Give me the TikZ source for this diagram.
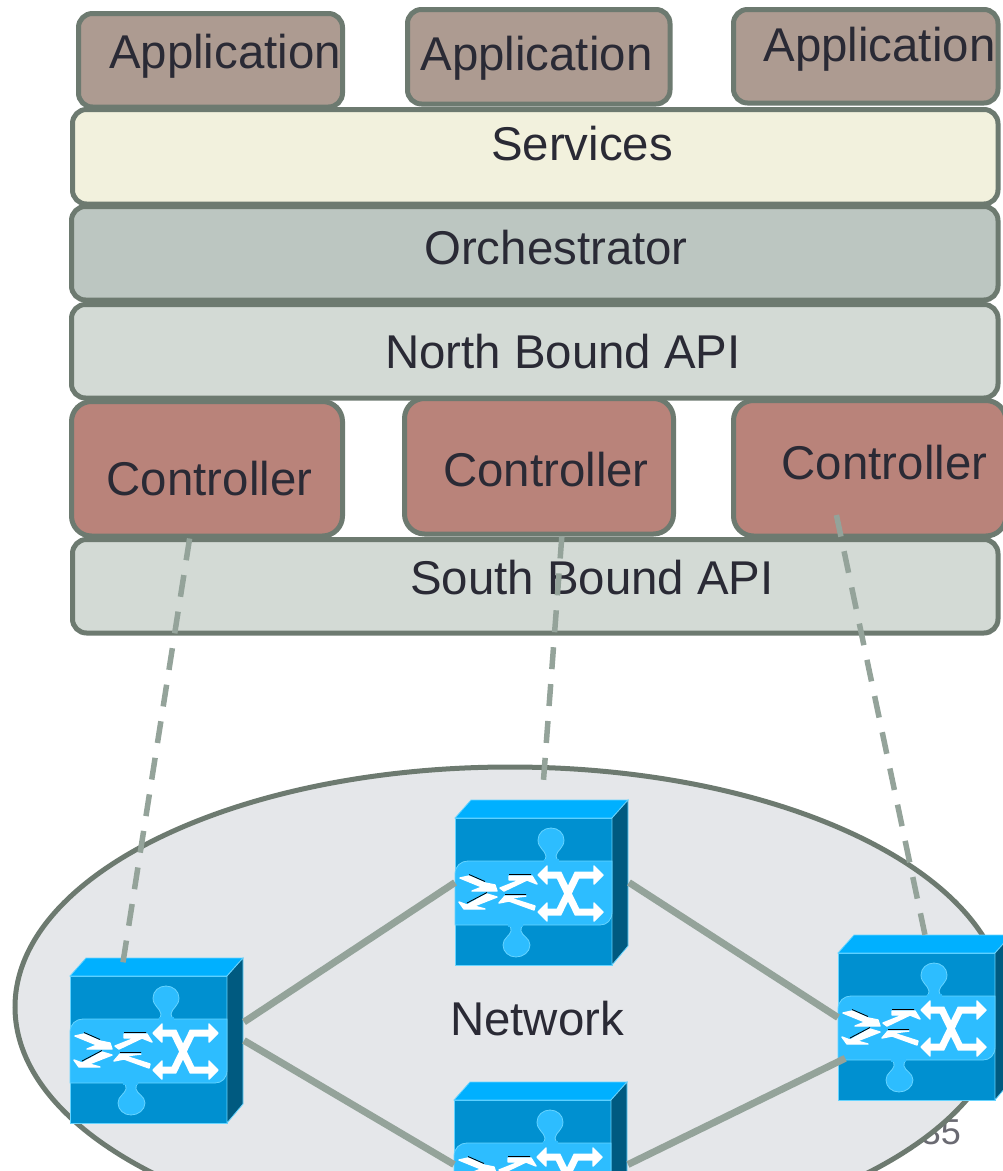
\documentclass[tikz,border=0pt]{standalone}
\usepackage{fontspec}
\setmainfont{Liberation Sans}
\usepackage{xcolor}
\usetikzlibrary{calc, positioning, shapes.geometric}

\definecolor{edgegray}{HTML}{6D7A70}
\definecolor{linkgray}{HTML}{94A39A}
\definecolor{inkdark}{HTML}{2A2A35}
\definecolor{appfill}{HTML}{AD9B91}
\definecolor{servfill}{HTML}{F2F1DD}
\definecolor{orchfill}{HTML}{BCC6C1}
\definecolor{apifill}{HTML}{D3DAD5}
\definecolor{ctrlfill}{HTML}{B9837A}
\definecolor{netfill}{HTML}{E5E7EA}
\definecolor{swfront}{HTML}{0090D0}
\definecolor{swtop}{HTML}{00B0FF}
\definecolor{swside}{HTML}{005A80}
\definecolor{swband}{HTML}{2DBDFF}
\definecolor{swedge}{HTML}{66D4FF}

\tikzset{
    layerbox/.style={draw=edgegray, line width=5pt, rounded corners=14pt, inner sep=0pt},
    ctrlbox/.style={layerbox, rounded corners=20pt},
    boxtext/.style={anchor=base, inner sep=0pt, text=inkdark, font=\fontsize{47.4}{56}\selectfont},
    switchbox/.style={anchor=north west, minimum width=174pt, minimum height=165pt, inner sep=0pt, outer sep=0pt},
    netlink/.style={draw=linkgray, line width=7pt},
    ctrllink/.style={draw=linkgray, line width=5.5pt, dash pattern=on 22pt off 15pt},
    swarrow/.style={fill=white, draw=white, line width=1.4pt, line join=round},
    switchicon/.pic={
        \path[fill=swfront, draw=swedge, line width=0.8pt] (0,0) rectangle (157,147);
        \path[fill=swtop, draw=swedge, line width=0.8pt] (0,0) -- (16,-18) -- (173,-18) -- (157,0) -- cycle;
        \path[fill=swside, draw=swedge, line width=0.8pt] (157,0) -- (173,-18) -- (173,128) -- (157,147) -- cycle;
        \path[fill=swband, draw=swedge, line width=0.8pt] (88,44) .. controls (90,43) and (91,41) .. (91,38)
            .. controls (90,32) and (83,30) .. (83,22)
            .. controls (83,15) and (89,10) .. (96,10) .. controls (103,10) and (109,15) .. (109,22)
            .. controls (109,30) and (102,32) .. (101,38)
            .. controls (101,41) and (103,43) .. (105,44) -- cycle;
        \path[fill=swband, draw=swedge, line width=0.8pt] (52,106) .. controls (55,107) and (56,109) .. (56,113)
            .. controls (55,118) and (48,120) .. (48,127)
            .. controls (48,134) and (54,139) .. (61,139) .. controls (68,139) and (75,134) .. (75,127)
            .. controls (75,120) and (67,118) .. (66,113)
            .. controls (66,109) and (67,107) .. (69,106) -- cycle;
        \path[fill=swband, draw=swedge, line width=0.8pt] (0,56) .. controls (0,48) and (6,43) .. (13,43)
            -- (157,43) -- (157,94) .. controls (157,102) and (152,107) .. (145,107) -- (0,107) -- cycle;
        \path[fill=swband] (89,41) rectangle (104,46);
        \path[fill=swband] (53,104) rectangle (68,109);
        % crossing arrows on the right
        \draw[white, line width=7pt] (90,57) -- (104,57) -- (122,94) -- (142,94);
        \draw[white, line width=7pt] (90,94) -- (104,94) -- (122,57) -- (142,57);
        \foreach \ypos in {57, 94} {
            \path[swarrow] (83,\ypos) -- (92,{\ypos-9}) -- (92,{\ypos+9}) -- cycle;
            \path[swarrow] (148,\ypos) -- (139,{\ypos-9}) -- (139,{\ypos+9}) -- cycle;
        }
        % four small arrows on the left
        \path[swarrow] (5,60) -- (14,58) -- (30,65) -- (40,67) -- (42,73) -- (17,73) -- (27,69) -- cycle;
        \path[swarrow] (54,58) -- (77,58) -- (82,66) -- (72,62) -- (49,73) -- (45,70) -- (65,62) -- (54,62) -- cycle;
        \path[swarrow] (32,76) -- (42,79) -- (19,88) -- (30,91) -- (9,91) -- (4,84) -- (12,87) -- cycle;
        \path[swarrow] (44,85) -- (50,78) -- (71,78) -- (55,80) -- (80,88) -- (79,92) -- (54,83) -- cycle;
        \draw[black, line width=0.8pt] (54,56.5) -- (76,56.5) (32,74.5) -- (12,85) (50,76.5) -- (71,76.5) (14,56.5) -- (30,63.5);
    }
}

\begin{document}
\begin{tikzpicture}[x=1pt, y=-1pt]
    \useasboundingbox (0,0) rectangle (1003,1171);
    \clip (0,0) rectangle (1003,1171);

    \node[text=inkdark!70, anchor=base east, inner sep=0pt, font=\fontsize{36}{40}\selectfont] (pagenum) at (961,1144) {35};
    \node[ellipse, draw=edgegray, fill=netfill, line width=5pt, minimum width=990pt, minimum height=480pt, inner sep=0pt] (netzone) at (510,1007) {};
    \node[boxtext] (nettext) at (537,1035) {Network};

    % layer stack: name/left/top/right/bottom/fill/style
    \foreach \name/\xa/\ya/\xb/\yb/\col/\shp in {
        appa/78.5/13.5/342.5/107/appfill/layerbox,
        appb/407.5/9.5/670/104/appfill/layerbox,
        appc/733.5/9.5/998/103/appfill/layerbox,
        services/72.5/109.5/998/204/servfill/layerbox,
        orchestrator/71.5/206.5/998/300/orchfill/layerbox,
        northapi/71.5/304.5/998/398/apifill/layerbox,
        ctrla/71.5/401.5/342.5/536/ctrlfill/ctrlbox,
        ctrlb/404.5/398.5/673.5/534/ctrlfill/ctrlbox,
        ctrlc/733.5/400.5/1006/536/ctrlfill/ctrlbox,
        southapi/72.5/539.5/998/633/apifill/layerbox} {
        \node[\shp, fill=\col, minimum width={(\xb-\xa)*1pt}, minimum height={(\yb-\ya)*1pt}] (\name) at ({(\xa+\xb)/2},{(\ya+\yb)/2}) {};
    }

    \foreach \name/\x/\y/\txt in {
        textappa/225/68.5/Application,
        textappb/536.5/70.5/Application,
        textappc/879.5/61.5/Application,
        textservices/582/160.5/Services,
        textorch/556/264.5/Orchestrator,
        textnorth/563/368.5/North Bound API,
        textctrla/209.5/495.5/Controller,
        textctrlb/546/486.5/Controller,
        textctrlc/884.5/479.5/Controller,
        textsouth/592/594.5/South Bound API} {
        \node[boxtext] (\name) at (\x,\y) {\txt};
    }

    % switches
    \foreach \name/\x/\y in {swleft/70/976, swmid/455/818, swlow/454/1100, swright/838/953} {
        \pic at (\x,\y) {switchicon};
        \node[switchbox] (\name) at (\x,{\y-18}) {};
    }

    \draw[netlink] (swleft.12) -- (swmid.west);
    \draw[netlink] (swleft.east) -- (swlow.west);
    \draw[netlink] (swmid.east) -- (swright.west);
    \draw[netlink, shorten >=-8pt] (swlow.east) -- (swright.207);

    \draw[ctrllink, shorten >=-7pt] (ctrla.256) -- (swleft.112);
    \draw[ctrllink, shorten >=15pt] (ctrlb.288) -- (swmid.north);
    \draw[ctrllink, shorten <=-24pt] (ctrlc.248) -- (swright.north);
\end{tikzpicture}
\end{document}
